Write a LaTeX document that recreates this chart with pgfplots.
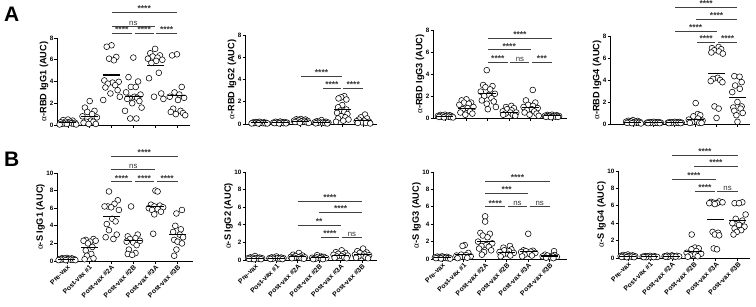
\documentclass[border=0pt]{standalone}
\usepackage{fontspec}
\setmainfont{Liberation Sans}
\newfontfamily\grk{Liberation Serif}
\usepackage{pgfplots}
\pgfplotsset{compat=1.18}
\pgfplotsset{
 dp/.style={scale only axis, axis lines=left, axis line style={-, line width=0.9pt}, tick align=outside, major tick length=2.5pt, every tick/.style={line width=0.8pt,black}, ymin=0, xtick={0,1,2,3,4,5}, clip=false, /pgf/number format/assume math mode=true, ticklabel style={font=\bfseries\fontsize{6.3}{7}\selectfont, inner sep=1pt}, ylabel style={font=\bfseries\fontsize{9.2}{10}\selectfont, yshift=-3pt}, anchor=south west},
 rowA/.style={dp, ymax=8, ytick={0,2,4,6,8}, xticklabels={{},{},{},{},{},{}}},
 rowB/.style={dp, ymax=10, ytick={0,2,4,6,8,10}, xticklabels={Pre-vax,Post-vax \#1,Post-vax \#2A,Post-vax \#2B,Post-vax \#3A,Post-vax \#3B}, xticklabel style={rotate=45, anchor=north east, inner sep=0.5pt, font=\bfseries\fontsize{6.8}{7}\selectfont}},
 pts/.style={only marks, mark=*, mark size=2.9pt, mark options={fill=white, draw=black, line width=0.55pt}},
 mn/.style={only marks, mark=-, mark size=8.5pt, mark options={line width=1.1pt, draw=black}},
}
\newcommand{\br}[4]{\draw[line width=0.7pt, black!75] (axis cs:#1,#3) -- (axis cs:#2,#3) node[midway, above, inner sep=0.4pt, font=\bfseries\fontsize{8.5}{8}\selectfont, black!80] {#4};}
\newcommand{\ns}{{\mdseries\fontsize{7.8}{8}\selectfont ns}}
\begin{document}
\begin{tikzpicture}
\node[anchor=north west, inner sep=0pt, font=\bfseries\fontsize{21}{21}\selectfont] at (4pt,-7pt) {A};
\node[anchor=north west, inner sep=0pt, font=\bfseries\fontsize{21}{21}\selectfont] at (4pt,-152pt) {B};
% ---------------- A1
\begin{axis}[rowA, at={(57pt,-125pt)}, width=133pt, height=87pt, xmin=-0.5, xmax=5.6, ylabel={{\grk\mdseries α}-RBD IgG1 (AUC)}]
\addplot[pts] coordinates {(0,0.5) (-0.22,0.45) (0.22,0.4) (-0.11,0.3) (0.11,0.3) (-0.33,0.25) (0.33,0.2) (0.05,0.2) (-0.17,0.15) (0.17,0.15) (-0.28,0.1) (0.28,0.1) (-0.05,0.1) (0.38,0.05) (-0.38,0.05)
(1,2.2) (0.78,1.6) (1.22,1.3) (0.89,1.2) (1.11,1.0) (0.67,0.8) (1.33,0.7) (1.05,0.4) (0.83,0.3) (1.17,0.3) (0.72,0.2) (1.28,0.1) (0.95,0.1)
(2,7.33) (1.78,7.2) (2.22,6.26) (1.89,6.1) (2.11,5.95) (1.67,4.1) (2.33,3.97) (2.05,3.9) (1.83,3.8) (2.17,3.66) (1.72,3.45) (2.28,3.2) (1.95,2.9) (2.38,2.6) (1.62,2.3)
(3,6.2) (2.78,4.4) (3.22,4.0) (2.89,3.5) (3.11,3.5) (2.67,3.0) (3.33,2.8) (3.05,2.6) (2.83,2.5) (3.17,2.5) (2.72,2.4) (3.28,2.2) (2.95,2.0) (3.38,1.6) (2.62,1.3) (3.14,0.6) (2.86,0.6)
(4,7.0) (3.78,6.6) (4.22,6.4) (3.89,6.3) (4.11,6.2) (3.67,6.1) (4.33,6.0) (4.05,5.9) (3.83,5.7) (4.17,4.8) (3.72,4.3) (4.28,2.9) (3.95,2.6) (4.38,2.4)
(5,6.5) (4.78,6.4) (5.22,3.5) (4.89,3.0) (5.11,2.8) (4.67,2.6) (5.33,2.5) (5.05,2.3) (4.83,1.5) (5.17,1.3) (4.72,1.2) (5.28,1.1) (4.95,1.0) (5.38,0.9)};
\addplot[mn] coordinates {(0,0.2) (1,0.76) (2,4.6) (3,2.6) (4,5.45) (5,2.68)};
\br{2}{5}{10.33}{****}
\br{2}{4}{9.1}{\ns}
\br{2}{2.94}{8.43}{****}
\br{3.06}{3.94}{8.43}{****}
\br{4.06}{5}{8.43}{****}
\end{axis}
% ---------------- A2
\begin{axis}[rowA, at={(245pt,-124pt)}, width=132pt, height=89pt, xmin=-0.7, xmax=5.68, ylabel={{\grk\mdseries α}-RBD IgG2 (AUC)}]
\addplot[pts] coordinates {(0,0.2) (-0.22,0.18) (0.22,0.15) (-0.11,0.15) (0.11,0.12) (-0.33,0.12) (0.33,0.1) (0.05,0.1) (-0.17,0.1) (0.17,0.08) (-0.28,0.08) (0.28,0.06) (-0.05,0.05) (0.38,0.05) (-0.38,0.05)
(1,0.22) (0.78,0.2) (1.22,0.18) (0.89,0.15) (1.11,0.15) (0.67,0.12) (1.33,0.12) (1.05,0.1) (0.83,0.1) (1.17,0.08) (0.72,0.08) (1.28,0.06) (0.95,0.05)
(2,0.45) (1.78,0.42) (2.22,0.4) (1.89,0.35) (2.11,0.32) (1.67,0.3) (2.33,0.28) (2.05,0.25) (1.83,0.22) (2.17,0.2) (1.72,0.18) (2.28,0.15) (1.95,0.12) (2.38,0.1)
(3,0.35) (2.78,0.25) (3.22,0.2) (2.89,0.2) (3.11,0.15) (2.67,0.15) (3.33,0.12) (3.05,0.1) (2.83,0.1) (3.17,0.08) (2.72,0.06) (3.28,0.05)
(4.1,2.5) (3.95,2.4) (3.82,2.3) (4.2,2.2) (4,1.7) (3.8,1.5) (4.2,1.3) (3.9,1.2) (4.1,1.1) (3.75,1.0) (4.25,0.9) (3.95,0.7) (4.15,0.6) (3.8,0.5) (4.3,0.4) (4.05,0.3) (3.7,0.2)
(5.1,0.85) (4.9,0.6) (5.2,0.5) (4.8,0.4) (5.05,0.3) (4.7,0.25) (5.3,0.2) (4.95,0.15) (5.15,0.1) (4.75,0.1) (5.35,0.05)};
\addplot[mn] coordinates {(0,0.13) (1,0.13) (2,0.25) (3,0.14) (4,1.3) (5,0.33)};
\br{2}{4}{4.3}{****}
\br{3.06}{3.94}{3.2}{****}
\br{4.06}{5}{3.2}{****}
\end{axis}
% ---------------- A3
\begin{axis}[rowA, at={(433pt,-118pt)}, width=134pt, height=88pt, xmin=-0.56, xmax=5.7, ylabel={{\grk\mdseries α}-RBD IgG3 (AUC)}]
\addplot[pts] coordinates {(0,0.3) (-0.22,0.28) (0.22,0.25) (-0.11,0.22) (0.11,0.2) (-0.33,0.18) (0.33,0.15) (0.05,0.15) (-0.17,0.12) (0.17,0.12) (-0.28,0.1) (0.28,0.08) (-0.05,0.06) (0.38,0.05)
(1,1.7) (0.78,1.6) (1.22,1.4) (0.89,1.4) (1.11,1.3) (0.67,1.2) (1.33,1.0) (1.05,0.9) (0.83,0.8) (1.17,0.6) (0.72,0.5) (1.28,0.4) (0.95,0.3)
(1.95,4.35) (1.78,3.0) (2.22,2.9) (1.89,2.8) (2.11,2.6) (1.67,2.4) (2.33,2.2) (2.05,2.1) (1.83,2.0) (2.17,1.8) (1.72,1.6) (2.28,1.5) (1.95,1.3) (2.38,1.0) (2.0,0.8)
(3.1,1.1) (2.85,1.0) (3.22,0.9) (2.9,0.8) (3.11,0.7) (2.7,0.6) (3.33,0.5) (3.05,0.5) (2.83,0.4) (3.17,0.3) (2.72,0.3) (3.28,0.2)
(4.1,2.55) (3.78,1.6) (4.22,1.4) (3.89,1.2) (4.11,1.1) (3.67,1.0) (4.33,0.9) (4.05,0.8) (3.83,0.7) (4.17,0.6) (3.72,0.5) (4.28,0.4) (3.95,0.3) (4.38,0.2)
(5,0.3) (4.78,0.28) (5.22,0.25) (4.89,0.22) (5.11,0.2) (4.67,0.2) (5.33,0.18) (5.05,0.15) (4.83,0.15) (5.17,0.12) (4.72,0.1) (5.28,0.1) (4.95,0.08)};
\addplot[mn] coordinates {(0,0.15) (1,0.85) (2,2.2) (3,0.52) (4,0.95) (5,0.2)};
\br{2}{5}{7.25}{****}
\br{2}{4}{6.2}{****}
\br{2}{2.94}{5.1}{****}
\br{3.06}{3.94}{5.1}{\ns}
\br{4.06}{5}{5.1}{***}
\end{axis}
% ---------------- A4
\begin{axis}[rowA, at={(610pt,-124pt)}, width=140pt, height=88pt, xmin=-1.1, xmax=5.6, ylabel={{\grk\mdseries α}-RBD IgG4 (AUC)}]
\addplot[pts] coordinates {(0,0.35) (-0.22,0.3) (0.22,0.28) (-0.11,0.25) (0.11,0.22) (-0.33,0.2) (0.33,0.18) (0.05,0.15) (-0.17,0.15) (0.17,0.12) (-0.28,0.1) (0.28,0.1) (-0.05,0.08) (0.38,0.05)
(1,0.2) (0.78,0.18) (1.22,0.18) (0.89,0.15) (1.11,0.15) (0.67,0.12) (1.33,0.12) (1.05,0.1) (0.83,0.1) (1.17,0.1) (0.72,0.08) (1.28,0.08)
(2,0.2) (1.78,0.18) (2.22,0.18) (1.89,0.15) (2.11,0.15) (1.67,0.12) (2.33,0.12) (2.05,0.1) (1.83,0.1) (2.17,0.1) (1.72,0.08) (2.28,0.08)
(3,1.9) (3.1,0.9) (3.22,0.8) (2.89,0.7) (3.11,0.5) (2.67,0.4) (3.33,0.3) (3.05,0.2) (2.83,0.15) (3.17,0.1) (2.72,0.1) (3.28,0.1)
(4.1,7.0) (3.78,6.9) (4.22,6.8) (3.89,6.7) (4.11,6.6) (3.75,6.5) (4.3,6.4) (4.05,4.2) (3.83,4.1) (4.17,4.0) (3.72,3.9) (4.28,3.8) (3.9,1.6) (4.1,1.4) (4.0,0.55)
(4.85,4.35) (5.1,4.3) (5.2,3.8) (4.89,3.5) (5.11,3.2) (4.75,2.9) (5.0,2.0) (5.2,1.6) (4.8,1.5) (5.15,1.4) (4.85,1.2) (5.25,1.0) (4.95,0.8) (5.0,0.2)};
\addplot[mn] coordinates {(0,0.17) (1,0.13) (2,0.13) (3,0.43) (4,4.62) (5,2.43)};
\br{2}{5}{10.6}{****}
\br{3}{5}{9.55}{****}
\br{2}{4}{8.45}{****}
\br{3.06}{3.94}{7.45}{****}
\br{4.06}{5}{7.45}{****}
\end{axis}
% ---------------- B1
\begin{axis}[rowB, at={(57pt,-261pt)}, width=136pt, height=88pt, xmin=-0.45, xmax=5.7, ylabel={{\grk\mdseries α}-S IgG1 (AUC)}]
\addplot[pts] coordinates {(0,0.35) (-0.22,0.32) (0.22,0.3) (-0.11,0.28) (0.11,0.25) (-0.33,0.22) (0.33,0.2) (0.05,0.2) (-0.17,0.18) (0.17,0.15) (-0.28,0.15) (0.28,0.12) (-0.05,0.1) (0.38,0.1) (-0.38,0.1)
(1.2,2.5) (0.85,2.4) (1.3,2.3) (0.75,2.3) (1.05,2.2) (0.95,2.0) (1.15,1.6) (0.85,1.2) (1.1,0.8) (0.9,0.6) (1.2,0.3) (0.8,0.2)
(1.9,7.9) (2.3,6.9) (2.15,6.5) (1.85,6.2) (1.7,6.2) (2.0,6.1) (2.35,5.8) (2.05,4.8) (2.2,4.5) (1.8,4.2) (1.9,3.5) (2.25,3.0) (1.75,2.7) (2.1,2.5)
(2.9,6.2) (3.2,3.0) (2.75,2.8) (3.1,2.6) (2.85,2.5) (3.3,2.3) (2.7,2.2) (3.0,2.1) (3.15,1.8) (2.8,1.3) (3.1,0.9) (2.75,0.8) (2.95,0.7)
(4.0,8.0) (4.1,7.9) (3.8,6.4) (4.2,6.3) (3.95,6.2) (4.35,6.1) (3.7,6.0) (4.1,5.9) (3.85,5.8) (4.25,5.6) (3.95,5.3) (3.9,3.1)
(5.2,5.8) (4.95,5.4) (4.9,4.0) (5.15,3.6) (4.8,3.3) (5.1,3.0) (5.25,2.7) (4.85,2.4) (5.0,2.2) (5.2,2.0) (4.95,1.3) (4.85,0.6)};
\addplot[mn] coordinates {(0,0.2) (1,1.5) (2,5.1) (3,2.38) (4,6.15) (5,2.98)};
\br{2}{5}{11.93}{****}
\br{2}{4}{10.42}{\ns}
\br{2}{2.94}{9.0}{****}
\br{3.06}{3.94}{9.0}{****}
\br{4.06}{5}{9.0}{****}
\end{axis}
% ---------------- B2
\begin{axis}[rowB, at={(245pt,-260pt)}, width=132pt, height=88pt, xmin=-0.47, xmax=5.7, ylabel={{\grk\mdseries α}-S IgG2 (AUC)}]
\addplot[pts] coordinates {(0,0.45) (-0.22,0.3) (0.22,0.28) (-0.11,0.25) (0.11,0.22) (-0.33,0.2) (0.33,0.2) (0.05,0.18) (-0.17,0.15) (0.17,0.15) (-0.28,0.12) (0.28,0.1) (-0.05,0.1)
(1,0.4) (0.78,0.3) (1.22,0.28) (0.89,0.25) (1.11,0.22) (0.67,0.2) (1.33,0.2) (1.05,0.18) (0.83,0.15) (1.17,0.15) (0.72,0.12) (1.28,0.1)
(2.05,0.8) (1.78,0.6) (2.22,0.5) (1.89,0.45) (2.11,0.4) (1.67,0.35) (2.33,0.3) (2.05,0.3) (1.83,0.25) (2.17,0.2) (1.72,0.2) (2.28,0.15)
(2.9,0.55) (3.1,0.4) (3.22,0.35) (2.89,0.3) (3.11,0.3) (2.67,0.25) (3.33,0.2) (3.05,0.2) (2.83,0.15) (3.17,0.1) (2.72,0.1)
(4.05,1.1) (3.78,0.9) (4.22,0.8) (3.89,0.7) (4.11,0.65) (3.67,0.6) (4.33,0.5) (4.05,0.45) (3.83,0.4) (4.17,0.3) (3.72,0.25) (4.28,0.2)
(5.05,1.3) (4.78,1.0) (5.22,0.85) (4.89,0.8) (5.11,0.7) (4.67,0.6) (5.33,0.55) (5.05,0.5) (4.83,0.4) (5.17,0.3) (4.72,0.25) (5.28,0.2)};
\addplot[mn] coordinates {(0,0.2) (1,0.2) (2,0.35) (3,0.25) (4,0.55) (5,0.6)};
\br{2}{5}{6.7}{****}
\br{3}{5}{5.37}{****}
\br{2}{4}{3.98}{**}
\br{3.06}{3.94}{2.53}{****}
\br{4.06}{5}{2.53}{\ns}
\end{axis}
% ---------------- B3
\begin{axis}[rowB, at={(433pt,-259pt)}, width=134pt, height=87pt, xmin=-0.42, xmax=5.8, ylabel={{\grk\mdseries α}-S IgG3 (AUC)}]
\addplot[pts] coordinates {(0,0.3) (-0.22,0.28) (0.22,0.25) (-0.11,0.22) (0.11,0.2) (-0.33,0.18) (0.33,0.15) (0.05,0.15) (-0.17,0.12) (0.17,0.12) (-0.28,0.1) (0.28,0.08) (-0.05,0.06) (0.38,0.05)
(1.05,1.6) (0.95,1.5) (1.22,0.7) (0.89,0.5) (1.11,0.45) (0.67,0.4) (1.33,0.3) (1.05,0.25) (0.83,0.2) (1.17,0.15) (0.72,0.1)
(2.0,4.9) (2.0,4.3) (1.78,3.0) (2.22,2.9) (1.89,2.7) (2.11,2.5) (1.67,2.0) (2.33,1.8) (2.05,1.6) (1.83,1.5) (2.17,1.4) (1.72,1.2) (2.28,1.0) (1.95,0.8) (1.85,0.5)
(3.15,1.5) (2.85,1.3) (3.22,1.1) (2.89,1.0) (3.11,0.9) (2.67,0.8) (3.33,0.7) (3.05,0.6) (2.83,0.5) (3.17,0.4) (2.72,0.3)
(4.0,2.9) (3.78,1.0) (4.22,0.95) (3.89,0.9) (4.11,0.85) (3.67,0.8) (4.33,0.7) (4.05,0.6) (3.83,0.5) (4.17,0.4) (3.72,0.3)
(5.2,0.9) (4.78,0.5) (5.22,0.45) (4.89,0.4) (5.11,0.35) (4.67,0.3) (5.33,0.25) (5.05,0.2) (4.83,0.15) (5.17,0.1)};
\addplot[mn] coordinates {(0,0.15) (1,0.55) (2,2.0) (3,0.7) (4,0.85) (5,0.35)};
\br{2}{5}{8.9}{****}
\br{2}{4}{7.55}{***}
\br{2}{2.94}{6.0}{****}
\br{3.06}{3.94}{6.0}{\ns}
\br{4.06}{5}{6.0}{\ns}
\end{axis}
% ---------------- B4
\begin{axis}[rowB, at={(618pt,-258pt)}, width=132pt, height=87pt, xmin=-0.45, xmax=5.55, ylabel={{\grk\mdseries α}-S IgG4 (AUC)}]
\addplot[pts] coordinates {(0,0.4) (-0.22,0.35) (0.22,0.3) (-0.11,0.28) (0.11,0.25) (-0.33,0.22) (0.33,0.2) (0.05,0.18) (-0.17,0.15) (0.17,0.15) (-0.28,0.12) (0.28,0.1) (-0.05,0.1)
(1,0.25) (0.78,0.22) (1.22,0.2) (0.89,0.18) (1.11,0.15) (0.67,0.15) (1.33,0.12) (1.05,0.12) (0.83,0.1) (1.17,0.1) (0.72,0.1)
(2,0.3) (1.78,0.28) (2.22,0.25) (1.89,0.22) (2.11,0.2) (1.67,0.2) (2.33,0.18) (2.05,0.18) (1.83,0.15) (2.17,0.15) (1.72,0.15)
(2.9,2.7) (3.05,1.2) (3.22,1.1) (2.89,1.0) (3.11,0.8) (2.67,0.6) (3.33,0.5) (3.05,0.4) (2.83,0.3) (3.17,0.2) (2.72,0.15)
(4.15,6.5) (3.78,6.45) (4.3,6.4) (3.89,6.35) (4.05,6.3) (3.7,6.3) (3.95,6.2) (3.85,3.0) (4.1,2.9) (3.95,2.7) (4.15,2.6) (3.9,1.1) (4.05,1.0)
(5.2,6.4) (4.85,6.3) (5.05,6.3) (5.35,5.0) (4.9,4.5) (5.2,4.3) (4.75,4.0) (5.05,3.8) (5.3,3.6) (4.85,3.4) (5.15,3.2) (4.95,3.0) (4.8,2.7)};
\addplot[mn] coordinates {(0,0.2) (1,0.15) (2,0.2) (3,0.7) (4,4.45) (5,4.3)};
\br{2}{5}{11.76}{****}
\br{3}{5}{10.5}{****}
\br{2}{4}{9.0}{****}
\br{3.06}{3.94}{7.66}{****}
\br{4.06}{5}{7.66}{\ns}
\end{axis}
\pgfresetboundingbox
\path[use as bounding box] (0pt,0pt) rectangle (756pt,-306pt);
\end{tikzpicture}
\end{document}
